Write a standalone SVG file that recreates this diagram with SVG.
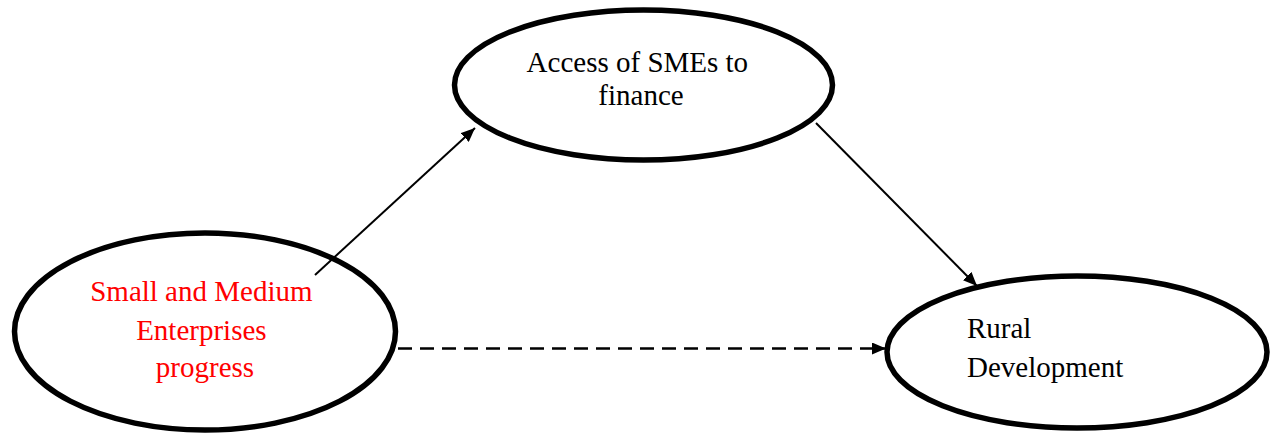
<svg xmlns="http://www.w3.org/2000/svg" width="1277" height="434" viewBox="0 0 1277 434">
  <style>
    .node { fill: #ffffff; stroke: #000000; stroke-width: 5.5; }
    .label { font-family: "Liberation Serif", "Times New Roman", serif; font-size: 29px; fill: #000000; }
    .red { fill: #ff0000; }
    .edge { stroke: #000000; stroke-width: 2; fill: none; }
    .dashed { stroke-width: 2.6; stroke-dasharray: 14 8; }
  </style>
  <defs>
    <marker id="arrow" viewBox="0 0 14 12" refX="14" refY="6" markerWidth="14" markerHeight="12" markerUnits="userSpaceOnUse" orient="auto">
      <path d="M0,0 L14,6 L0,12 Z" fill="#000000"/>
    </marker>
  </defs>
  <rect width="1277" height="434" fill="#ffffff"/>

  <g id="node-sme">
    <ellipse class="node" cx="205" cy="331.5" rx="190.5" ry="98.5"/>
    <text class="label red" text-anchor="middle">
      <tspan x="205" y="301">Small and Medium</tspan>
      <tspan x="205" y="340">Enterprises</tspan>
      <tspan x="205" y="377">progress</tspan>
    </text>
  </g>

  <g id="node-finance">
    <ellipse class="node" cx="643.5" cy="85" rx="189" ry="75"/>
    <text class="label" text-anchor="middle">
      <tspan x="641" y="72">Access of SMEs to</tspan>
      <tspan x="641" y="105">finance</tspan>
    </text>
  </g>

  <g id="node-rural">
    <ellipse class="node" cx="1077" cy="352" rx="190" ry="76"/>
    <text class="label">
      <tspan x="967" y="338">Rural</tspan>
      <tspan x="967" y="377">Development</tspan>
    </text>
  </g>

  <g id="connectors">
    <line class="edge" x1="315" y1="275" x2="475" y2="128" marker-end="url(#arrow)"/>
    <line class="edge" x1="816" y1="123" x2="977" y2="286" marker-end="url(#arrow)"/>
    <line class="edge dashed" x1="398" y1="348.5" x2="886" y2="348.5" marker-end="url(#arrow)"/>
  </g>
</svg>
